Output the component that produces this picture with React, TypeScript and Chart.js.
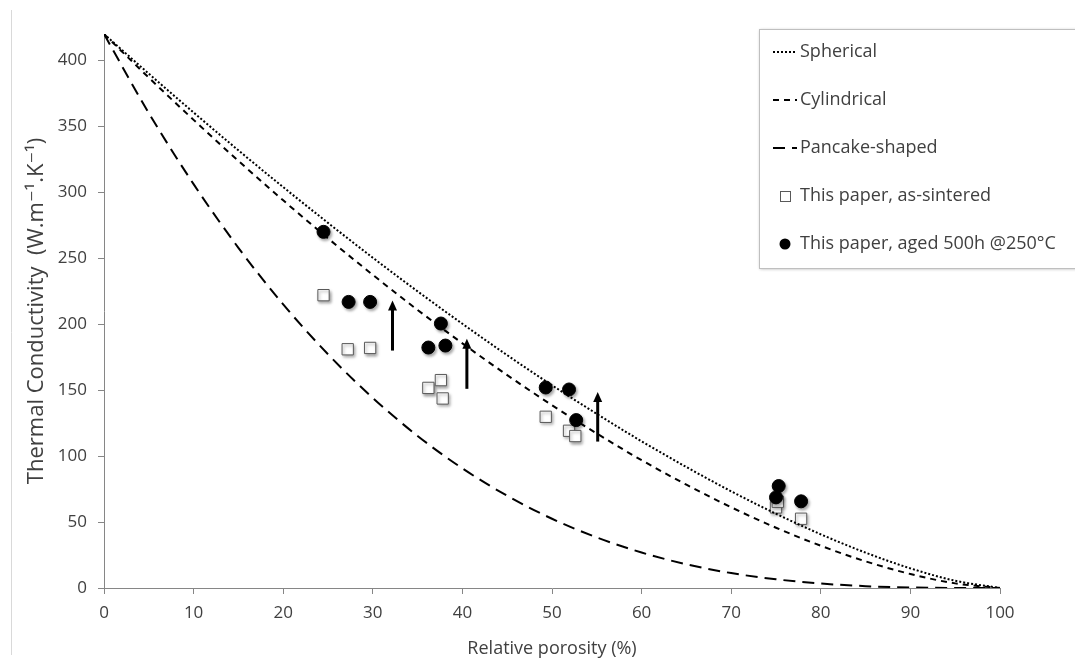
import React, { useEffect, useRef } from 'react';
import { Chart, registerables } from 'chart.js';

Chart.register(...registerables);

// ---- data ----
const modelPorosity = [0, 5, 10, 15, 20, 25, 30, 35, 40, 45, 50, 55, 60, 65, 70, 75, 80, 85, 90, 95, 100];
const sphericalK = [420, 389.9, 360.5, 331.8, 303.9, 276.8, 250.4, 224.9, 200.3, 176.5, 153.7, 132.0, 111.2, 91.7, 73.3, 56.3, 40.7, 26.8, 14.9, 5.5, 0];
const cylindricalK = [420, 386.9, 354.9, 323.8, 293.9, 265.1, 237.4, 210.8, 185.5, 161.4, 138.6, 117.1, 96.9, 78.3, 61.2, 45.7, 32.0, 20.2, 10.6, 3.5, 0];
const pancakeK = [420, 360.1, 306.2, 257.9, 215.0, 177.2, 144.1, 115.3, 90.7, 69.9, 52.5, 38.3, 26.9, 18.0, 11.3, 6.6, 3.4, 1.4, 0.4, 0.05, 0];

const sinteredPorosity = [24.5, 27.2, 29.7, 36.2, 37.6, 37.8, 49.3, 51.9, 52.6, 75.0, 75.2, 77.8];
const sinteredK = [222, 181, 182, 151.7, 157.6, 143.7, 129.8, 119.2, 115.2, 61.1, 65.4, 52.5];

const agedPorosity = [24.5, 27.3, 29.7, 37.6, 36.2, 38.1, 49.3, 51.9, 52.7, 75.3, 75.0, 77.8];
const agedK = [270, 216.9, 216.9, 200.5, 182.3, 183.8, 152, 150.5, 127.3, 77.3, 68.7, 65.7];

const arrowPorosity = [32.2, 40.5, 55.1];
const arrowFromK = [180, 151, 111];
const arrowToK = [218, 189, 148.5];

const xTicks = [0, 10, 20, 30, 40, 50, 60, 70, 80, 90, 100];
const yTicks = [0, 50, 100, 150, 200, 250, 300, 350, 400];

const seriesLabels = ['Spherical', 'Cylindrical', 'Pancake-shaped', 'This paper, as-sintered', 'This paper, aged 500h @250°C'];
const xTitle = 'Relative porosity (%)';
const yTitle = 'Thermal Conductivity  (W.m⁻¹.K⁻¹)';

const TEXT = '#404040';
const AXIS = '#868686';
const FONT = '"Open Sans", "DejaVu Sans", sans-serif';

const toPts = (xs: number[], ys: number[]) => xs.map((x, i) => ({ x, y: ys[i] }));

const shadowPlugin = {
  id: 'markerShadow',
  beforeDatasetDraw(chart: any, args: any) {
    const ds = chart.data.datasets[args.index];
    if (ds._shadow) {
      const ctx = chart.ctx;
      ctx.save();
      ctx.shadowColor = 'rgba(0,0,0,0.35)';
      ctx.shadowBlur = 3;
      ctx.shadowOffsetX = 1.5;
      ctx.shadowOffsetY = 2;
    }
  },
  afterDatasetDraw(chart: any, args: any) {
    const ds = chart.data.datasets[args.index];
    if (ds._shadow) chart.ctx.restore();
  },
};

const arrowPlugin = {
  id: 'arrows',
  afterDatasetsDraw(chart: any) {
    const { ctx, scales } = chart;
    const xs = scales.x, ys = scales.y;
    ctx.save();
    ctx.strokeStyle = '#000';
    ctx.fillStyle = '#000';
    ctx.lineWidth = 3;
    arrowPorosity.forEach((p, i) => {
      const x = xs.getPixelForValue(p);
      const y0 = ys.getPixelForValue(arrowFromK[i]);
      const y1 = ys.getPixelForValue(arrowToK[i]);
      ctx.beginPath();
      ctx.moveTo(x, y0);
      ctx.lineTo(x, y1 + 8);
      ctx.stroke();
      ctx.beginPath();
      ctx.moveTo(x, y1);
      ctx.lineTo(x - 4.5, y1 + 10);
      ctx.lineTo(x + 4.5, y1 + 10);
      ctx.closePath();
      ctx.fill();
    });
    ctx.restore();
  },
};

const legendPlugin = {
  id: 'customLegend',
  afterDraw(chart: any) {
    const ctx = chart.ctx;
    const ds = chart.data.datasets;
    const byLabel = (l: string) => ds.find((d: any) => d.label === l);
    const left = 759, top = 29, bottom = 268, right = 1090;
    ctx.save();
    // frame line at far left of the picture
    ctx.strokeStyle = '#d9d9d9';
    ctx.lineWidth = 1;
    ctx.beginPath();
    ctx.moveTo(11.5, 10);
    ctx.lineTo(11.5, 655);
    ctx.stroke();
    // box
    ctx.shadowColor = 'rgba(0,0,0,0.3)';
    ctx.shadowBlur = 3;
    ctx.shadowOffsetX = 1;
    ctx.shadowOffsetY = 1;
    ctx.fillStyle = '#fff';
    ctx.fillRect(left, top, right - left, bottom - top);
    ctx.shadowColor = 'transparent';
    ctx.strokeStyle = '#bfbfbf';
    ctx.strokeRect(left + 0.5, top + 0.5, right - left, bottom - top);

    const rowY = (i: number) => 52 + i * 48;
    seriesLabels.forEach((label, i) => {
      const d = byLabel(label);
      const y = rowY(i);
      ctx.save();
      if (d.showLine) {
        ctx.strokeStyle = '#000';
        ctx.lineWidth = d.borderWidth;
        ctx.setLineDash(d.borderDash || []);
        ctx.beginPath();
        ctx.moveTo(773, y);
        ctx.lineTo(797, y);
        ctx.stroke();
      } else if (d.pointStyle === 'rect') {
        ctx.fillStyle = '#fff';
        ctx.strokeStyle = '#595959';
        ctx.lineWidth = 1;
        ctx.fillRect(780, y - 5, 10, 10);
        ctx.strokeRect(780.5, y - 4.5, 10, 10);
      } else {
        ctx.fillStyle = '#000';
        ctx.beginPath();
        ctx.arc(785, y, 5.5, 0, Math.PI * 2);
        ctx.fill();
      }
      ctx.restore();
      ctx.fillStyle = TEXT;
      ctx.font = `18px ${FONT}`;
      ctx.textBaseline = 'middle';
      ctx.textAlign = 'left';
      ctx.fillText(label, 800, y);
    });
    ctx.restore();
  },
};

export default function App() {
  const ref = useRef<HTMLCanvasElement | null>(null);

  useEffect(() => {
    if (!ref.current) return;
    const chart = new Chart(ref.current, {
      type: 'scatter',
      data: {
        datasets: [
          {
            label: seriesLabels[4],
            data: toPts(agedPorosity, agedK),
            pointStyle: 'circle',
            pointRadius: 6.5,
            pointBackgroundColor: '#000',
            pointBorderColor: '#000',
            showLine: false,
            _shadow: true,
          } as any,
          {
            label: seriesLabels[0],
            data: toPts(modelPorosity, sphericalK),
            showLine: true,
            borderColor: '#000',
            borderWidth: 2,
            borderDash: [2, 2],
            pointRadius: 0,
            cubicInterpolationMode: 'monotone',
          } as any,
          {
            label: seriesLabels[1],
            data: toPts(modelPorosity, cylindricalK),
            showLine: true,
            borderColor: '#000',
            borderWidth: 2,
            borderDash: [6, 5],
            pointRadius: 0,
            cubicInterpolationMode: 'monotone',
          } as any,
          {
            label: seriesLabels[2],
            data: toPts(modelPorosity, pancakeK),
            showLine: true,
            borderColor: '#000',
            borderWidth: 2,
            borderDash: [12, 7],
            pointRadius: 0,
            cubicInterpolationMode: 'monotone',
          } as any,
          {
            label: seriesLabels[3],
            data: toPts(sinteredPorosity, sinteredK),
            pointStyle: 'rect',
            pointRadius: 8,
            pointBackgroundColor: '#fff',
            pointBorderColor: '#595959',
            pointBorderWidth: 1,
            showLine: false,
            _shadow: true,
          } as any,
        ],
      },
      options: {
        animation: false,
        responsive: false,
        layout: { padding: { left: 0, right: 75, top: 34, bottom: 0 } },
        plugins: {
          legend: { display: false },
          tooltip: { enabled: false },
        },
        scales: {
          x: {
            type: 'linear',
            min: 0,
            max: 100,
            afterFit: (s: any) => { s.height = 79; },
            afterBuildTicks: (s: any) => { s.ticks = xTicks.map((v) => ({ value: v })); },
            grid: { display: true, drawOnChartArea: false, drawTicks: true, tickLength: 6, color: AXIS },
            border: { display: true, color: AXIS, width: 1 },
            ticks: { color: TEXT, font: { family: FONT, size: 17 }, padding: 9, maxRotation: 0 },
            title: { display: true, text: xTitle, color: TEXT, font: { family: FONT, size: 18 }, padding: { top: 0, bottom: 7 } },
          },
          y: {
            type: 'linear',
            min: 0,
            max: 420,
            afterFit: (s: any) => { s.width = 104; },
            afterBuildTicks: (s: any) => { s.ticks = yTicks.map((v) => ({ value: v })); },
            grid: { display: true, drawOnChartArea: false, drawTicks: true, tickLength: 6, color: AXIS },
            border: { display: true, color: AXIS, width: 1 },
            ticks: { color: TEXT, font: { family: FONT, size: 17 }, padding: 11 },
            title: { display: true, text: yTitle, color: TEXT, font: { family: FONT, size: 22 }, padding: { top: 24, bottom: 0 } },
          },
        },
      } as any,
      plugins: [shadowPlugin, arrowPlugin, legendPlugin],
    });
    return () => chart.destroy();
  }, []);

  return (
    <div style={{ position: 'fixed', left: 0, top: 0, width: 1075, height: 667, background: '#fff' }}>
      <canvas ref={ref} width={1075} height={667} />
    </div>
  );
}
